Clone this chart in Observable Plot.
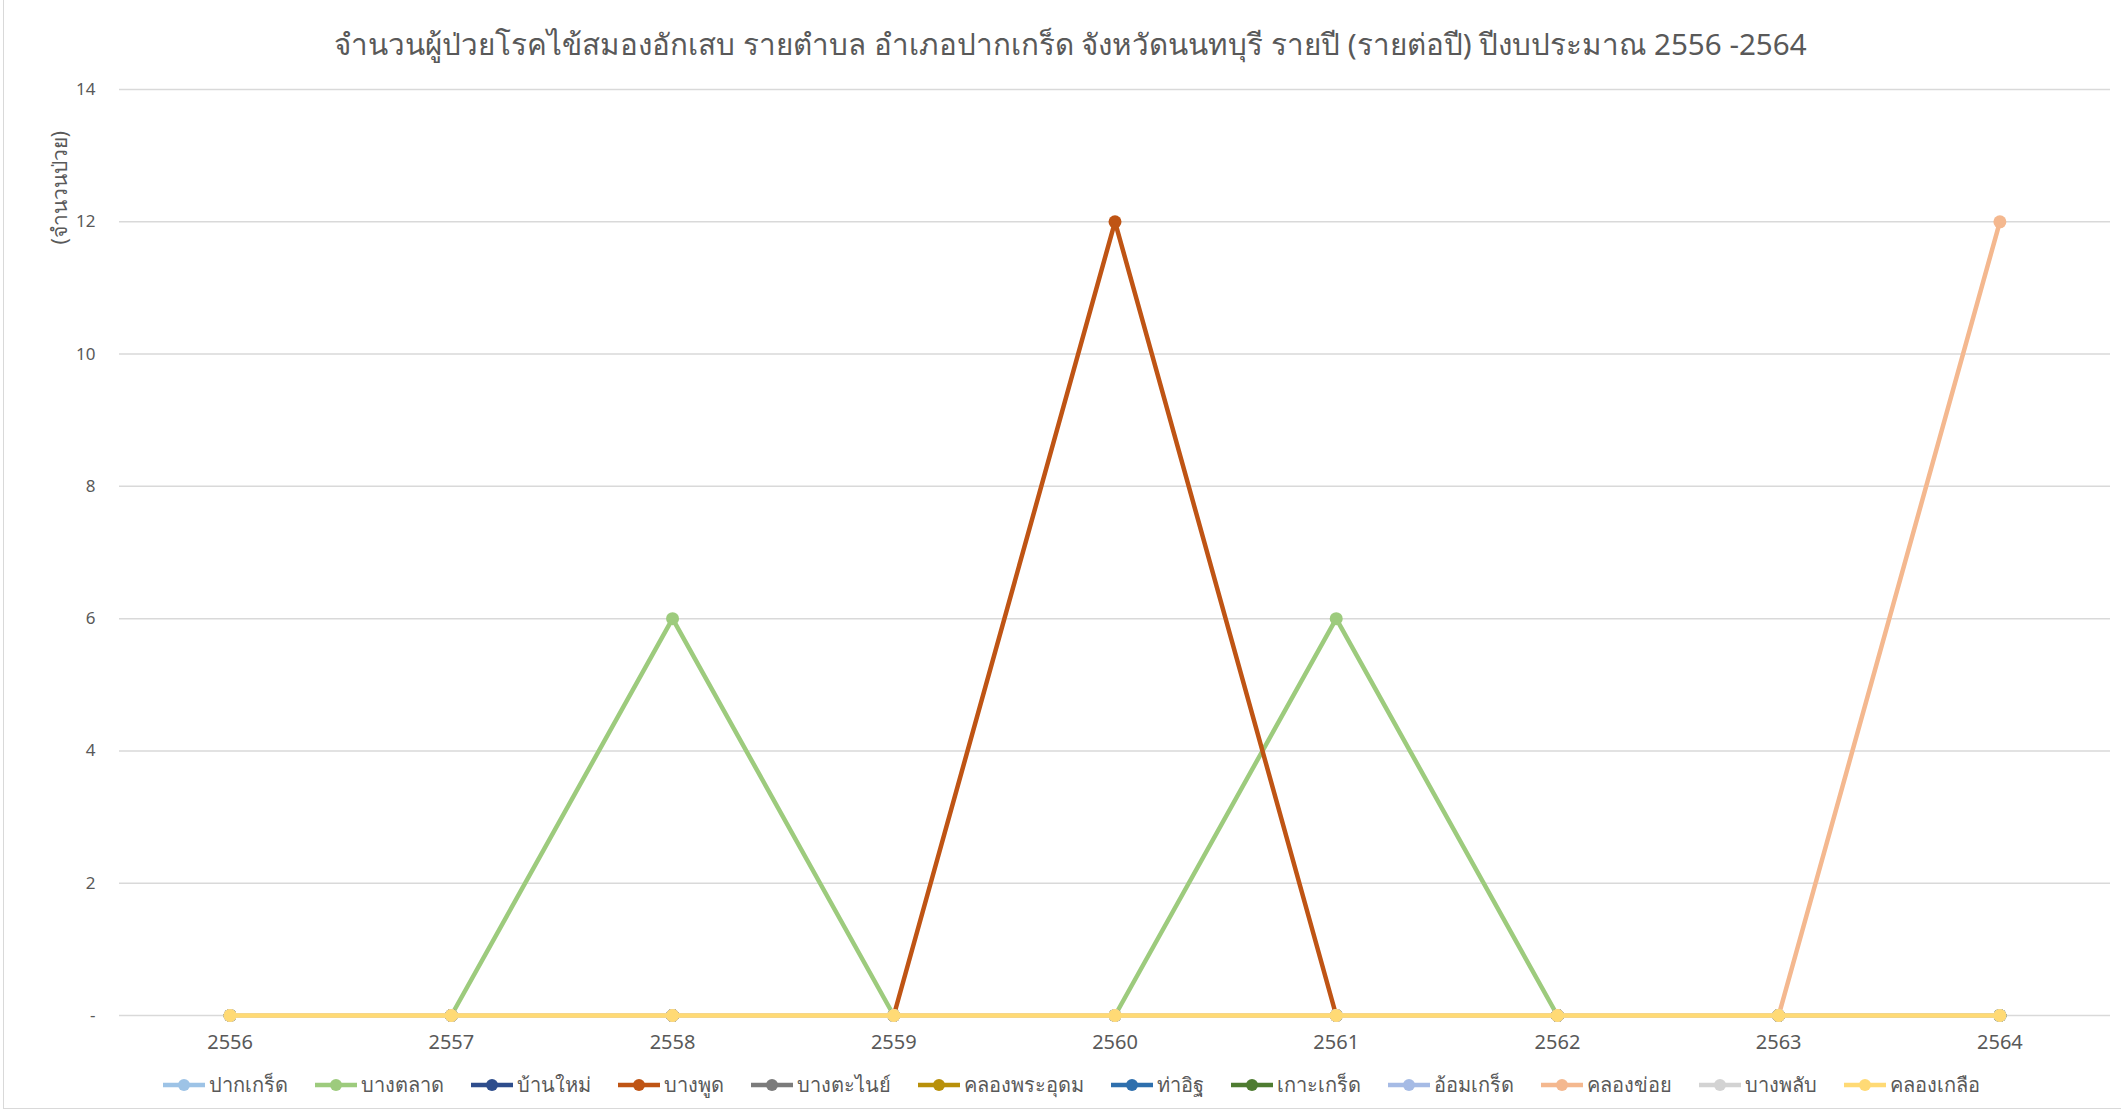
<!DOCTYPE html>
<html><head><meta charset="utf-8">
<script src="https://cdn.jsdelivr.net/npm/d3@7"></script>
<script src="https://cdn.jsdelivr.net/npm/@observablehq/plot@0.6"></script>
<style>
body{margin:0;background:#fff;}
#chart{position:relative;width:2121px;height:1113px;overflow:hidden;font-family:"Noto Sans",sans-serif;color:#595959;background:#fff;}
#frame{position:absolute;left:3px;top:-3px;width:2140px;height:1112px;border:1.5px solid #d9d9d9;box-sizing:border-box;}
#title{position:absolute;left:10px;top:24px;width:2121px;text-align:center;font-size:29.6px;line-height:40px;}
#plot{position:absolute;left:0;top:70px;}
#legend{position:absolute;left:10px;top:1071px;width:2121px;display:flex;justify-content:center;gap:25px;font-size:20px;line-height:28px;}
.item{display:flex;align-items:center;}
.item svg{margin-right:2px;}
</style></head>
<body>
<div id="chart">
  <div id="frame"></div>
  <div id="title">จำนวนผู้ป่วยโรคไข้สมองอักเสบ รายตำบล อำเภอปากเกร็ด จังหวัดนนทบุรี รายปี (รายต่อปี) ปีงบประมาณ 2556 -2564</div>
  <div id="plot"></div>
  <div id="legend"></div>
</div>
<script>
const years = [2556, 2557, 2558, 2559, 2560, 2561, 2562, 2563, 2564];
const subdistricts = ["ปากเกร็ด","บางตลาด","บ้านใหม่","บางพูด","บางตะไนย์","คลองพระอุดม","ท่าอิฐ","เกาะเกร็ด","อ้อมเกร็ด","คลองข่อย","บางพลับ","คลองเกลือ"];
const pakkret      = [0,0,0,0,0,0,0,0,0];
const bangtalat    = [0,0,6,0,0,6,0,0,0];
const banmai       = [0,0,0,0,0,0,0,0,0];
const bangphut     = [0,0,0,0,12,0,0,0,0];
const bangtanai    = [0,0,0,0,0,0,0,0,0];
const khlongphraudom = [0,0,0,0,0,0,0,0,0];
const thait        = [0,0,0,0,0,0,0,0,0];
const kokret       = [0,0,0,0,0,0,0,0,0];
const omkret       = [0,0,0,0,0,0,0,0,0];
const khlongkhoi   = [0,0,0,0,0,0,0,0,12];
const bangphlap    = [0,0,0,0,0,0,0,0,0];
const khlongklua   = [0,0,0,0,0,0,0,0,0];
const seriesValues = [pakkret, bangtalat, banmai, bangphut, bangtanai, khlongphraudom, thait, kokret, omkret, khlongkhoi, bangphlap, khlongklua];
const colors = ["#9DC3E6","#9DCB7D","#2E4D8C","#BF5414","#7B7B7B","#B8900A","#2E6FAD","#4E7C31","#A6BBE5","#F4B88F","#D3D3D3","#FFDA75"];
const yTicks = [0, 2, 4, 6, 8, 10, 12, 14];
const yLabel = "(จำนวนป่วย)";

const table = subdistricts.flatMap((name, i) => years.map((year, j) => ({name, year, value: seriesValues[i][j]})));

const seriesMarks = subdistricts.flatMap((name, i) => {
  const d = table.filter(r => r.name === name);
  return [
    Plot.line(d, {x: "year", y: "value", stroke: colors[i], strokeWidth: 4.5}),
    Plot.dot(d, {x: "year", y: "value", fill: colors[i], r: 6.5})
  ];
});

const plot = Plot.plot({
  width: 2121,
  height: 1000,
  marginLeft: 119,
  marginRight: 11,
  marginTop: 19,
  marginBottom: 55,
  style: {fontFamily: '"Noto Sans", sans-serif', color: "#595959", background: "transparent"},
  x: {type: "linear", domain: [2555.5, 2564.5]},
  y: {domain: [0, 14]},
  marks: [
    Plot.gridY(yTicks, {stroke: "#d9d9d9", strokeOpacity: 1, strokeWidth: 1.5}),
    Plot.axisY(yTicks, {tickSize: 0, tickPadding: 24, fontSize: 17, fill: "#595959", tickFormat: d => d === 0 ? "-" : String(d), label: null}),
    Plot.axisX(years, {tickSize: 0, tickPadding: 19, fontSize: 20, fill: "#595959", tickFormat: d => String(d), label: null}),
    Plot.text([yLabel], {frameAnchor: "top-left", dx: -67, dy: 155, rotate: -90, fontSize: 21, fill: "#595959"}),
    ...seriesMarks
  ]
});
document.getElementById("plot").appendChild(plot);

const legend = document.getElementById("legend");
subdistricts.forEach((name, i) => {
  const item = document.createElement("div");
  item.className = "item";
  item.innerHTML = `<svg width="46" height="14"><line x1="2" x2="44" y1="7" y2="7" stroke="${colors[i]}" stroke-width="4.5"/><circle cx="23" cy="7" r="6" fill="${colors[i]}"/></svg><span>${name}</span>`;
  legend.appendChild(item);
});
</script>
</body></html>
